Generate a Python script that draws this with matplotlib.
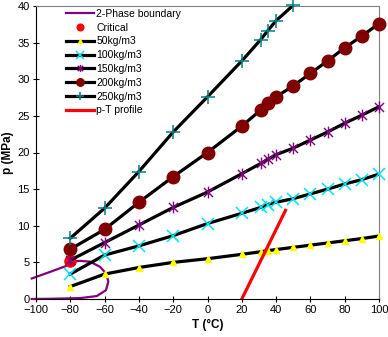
"""CO2 density isolines with 2-phase envelope and a p-T profile."""

import matplotlib
matplotlib.use("Agg")
import matplotlib.pyplot as plt
import numpy as np
from matplotlib.path import Path

plt.rcParams["font.family"] = ["Liberation Sans", "DejaVu Sans"]

# temperatures (deg C) where the isolines were evaluated
T_ISO = [-80, -60, -40, -20, 0, 20, 31, 35, 40, 50, 60, 70, 80, 90, 100]

P_50 = [1.7, 3.4, 4.3, 5.0, 5.5, 6.1, 6.45, 6.6, 6.75, 7.05, 7.35, 7.65, 7.95, 8.25, 8.6]
P_100 = [3.4, 6.0, 7.25, 8.65, 10.3, 11.7, 12.5, 12.9, 13.2, 13.7, 14.35, 15.0, 15.7, 16.3, 17.05]
P_150 = [5.3, 7.7, 10.1, 12.5, 14.6, 17.1, 18.5, 19.05, 19.7, 20.6, 21.7, 22.8, 24.0, 25.1, 26.25]
P_200 = [6.8, 9.5, 13.2, 16.7, 20.0, 23.6, 25.8, 26.7, 27.6, 29.1, 30.8, 32.5, 34.3, 35.9, 37.6]
T_250 = [-80, -60, -40, -20, 0, 20, 31, 35, 40, 50, 60]
P_250 = [8.3, 12.4, 17.4, 22.8, 27.6, 32.5, 35.4, 36.6, 38.0, 40.1, 42.8]

# two-phase envelope, traced from the upper branch round to the lower one
T_ENV = [-102.5, -91.8, -82.5, -80.2, -74.3, -68.5, -62.7, -59.2, -57.8,
         -59.2, -64.6, -74.3, -91.8, -102.5]
P_ENV = [2.8, 3.7, 4.5, 5.1, 5.2, 5.1, 4.4, 3.5, 2.4, 1.2, 0.4, 0.12, 0.03, 0.0]

T_CRIT = [-80.2]
P_CRIT = [5.2]

T_PROFILE = [20, 45.5]
P_PROFILE = [0, 12.1]

# Excel-style star: an X with a vertical bar through it
STAR = Path([(-1, -1), (1, 1), (-1, 1), (1, -1), (0, -1.3), (0, 1.3)],
            [Path.MOVETO, Path.LINETO, Path.MOVETO, Path.LINETO,
             Path.MOVETO, Path.LINETO])

SERIES = [
    ("50kg/m3", T_ISO, P_50, dict(marker="^", mfc="#ffff00", mec="#ffff00", ms=4.5)),
    ("100kg/m3", T_ISO, P_100, dict(marker="x", mfc="none", mec="#00e5ee", ms=9, mew=1.1)),
    ("150kg/m3", T_ISO, P_150, dict(marker=STAR, mfc="none", mec="#800080", ms=8.5, mew=1.0)),
    ("200kg/m3", T_ISO, P_200, dict(marker="o", mfc="#800000", mec="#800000", ms=9)),
    ("250kg/m3", T_250, P_250, dict(marker="+", mfc="none", mec="#008080", ms=10, mew=1.1)),
]

fig = plt.figure(figsize=(3.88, 3.37), dpi=100)
ax = fig.add_axes([36 / 388, 1 - 299 / 337, 343 / 388, 293 / 337])

ax.plot(T_ENV, P_ENV, color="#800080", lw=1.6, clip_on=False,
        label="2-Phase boundary", zorder=2)
ax.plot(T_CRIT, P_CRIT, ls="none", marker="o", ms=8, color="#ff0000",
        label="Critical", zorder=2)

for label, ts, ps, style in SERIES:
    ts = np.asarray(ts)
    ps = np.asarray(ps)
    ax.plot(ts, ps, color="k", lw=2.3, zorder=3)
    inside = ps <= 40.5
    ax.plot(ts[inside], ps[inside], ls="none", clip_on=False, zorder=4, **style)
    # proxy for the legend: black line with the marker
    ax.plot([], [], color="k", lw=2.3, label=label, **style)

ax.plot(T_PROFILE, P_PROFILE, color="#ff0000", lw=2.3, label="p-T profile", zorder=5)

ax.set_xlim(-100, 100)
ax.set_ylim(0, 40)
ax.set_xticks(np.arange(-100, 101, 20))
ax.set_yticks(np.arange(0, 41, 5))
ax.tick_params(direction="inout", length=5, width=0.8, labelsize=8, pad=2)
for side in ("top", "right"):
    ax.spines[side].set_color("#808080")
for side in ("left", "bottom"):
    ax.spines[side].set_color("black")
ax.set_xlabel("T (°C)", fontsize=8.5, fontweight="bold")
ax.set_ylabel("p (MPa)", fontsize=8.5, fontweight="bold")
ax.xaxis.set_label_coords(0.5, -(325 - 299) / 293, transform=ax.transAxes)
ax.yaxis.set_label_coords(-(36 - 8) / 343, 0.5, transform=ax.transAxes)
ax.xaxis.label.set_va("center")
ax.yaxis.label.set_va("center")

ax.legend(loc="upper left", bbox_to_anchor=(66 / 388, 1 - 9 / 337),
          bbox_transform=fig.transFigure, frameon=False, fontsize=7.5,
          borderpad=0, borderaxespad=0, handlelength=2.7, handletextpad=0.2,
          labelspacing=0.36, markerscale=0.6)

fig.savefig("out.png", dpi=100)
